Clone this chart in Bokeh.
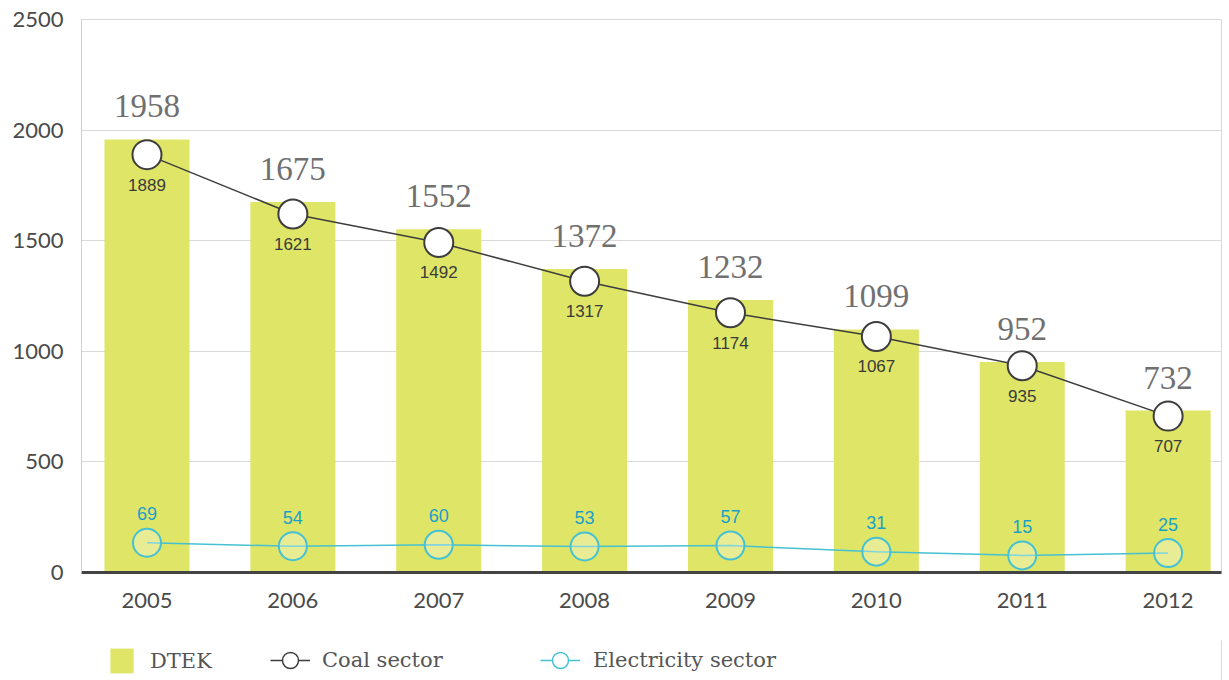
from bokeh.plotting import figure
from bokeh.layouts import column
from bokeh.models import Range1d, FixedTicker, Legend, LegendItem, ColumnDataSource
from bokeh.core.properties import value
from bokeh.embed import file_html
from bokeh.resources import INLINE

# Data
years = [2005, 2006, 2007, 2008, 2009, 2010, 2011, 2012]
dtek = [1958, 1675, 1552, 1372, 1232, 1099, 952, 732]
coal_sector = [1889, 1621, 1492, 1317, 1174, 1067, 935, 707]
electricity_sector = [69, 54, 60, 53, 57, 31, 15, 25]
y_ticks = [0, 500, 1000, 1500, 2000, 2500]

BAR = "#dfe667"
COAL = "#3d3d3d"
ELEC_LINE = "#46c1d3"
ELEC_TEXT = "#1a9fc9"

src = ColumnDataSource(dict(
    year=years,
    dtek=dtek,
    coal=coal_sector,
    elec=electricity_sector,
    dtek_txt=[str(v) for v in dtek],
    coal_txt=[str(v) for v in coal_sector],
    elec_txt=[str(v) for v in electricity_sector],
))

p = figure(
    width=1229, height=640,
    x_range=Range1d(2004.551, 2012.366),
    y_range=Range1d(0, 2500),
    output_backend="svg", toolbar_location=None,
    min_border_left=81, min_border_right=8,
    min_border_top=19, min_border_bottom=68,
)
# electricity series uses its own (hidden) scale so it sits just above the baseline
p.extra_y_ranges = {"elec": Range1d(-58.2, 2307)}

p.background_fill_color = "white"
p.border_fill_color = "white"
p.outline_line_color = "#d9d9d9"
p.outline_line_width = 1

p.xgrid.grid_line_color = None
p.ygrid.grid_line_color = "#d9d9d9"
p.ygrid.grid_line_width = 1

# axes
p.xaxis.ticker = FixedTicker(ticks=years)
p.xaxis.axis_line_color = "#444444"
p.xaxis.axis_line_width = 3
p.xaxis.major_tick_line_color = None
p.xaxis.minor_tick_line_color = None
p.xaxis.major_label_standoff = 14
p.xaxis.major_label_text_font = "Lato"
p.xaxis.major_label_text_font_size = "22px"
p.xaxis.major_label_text_color = "#4a4a4a"

p.yaxis.ticker = FixedTicker(ticks=y_ticks)
p.yaxis.axis_line_color = "#cfcfcf"
p.yaxis.axis_line_width = 1
p.yaxis.major_tick_line_color = None
p.yaxis.minor_tick_line_color = None
p.yaxis.major_label_standoff = 12
p.yaxis.major_label_text_font = "Lato"
p.yaxis.major_label_text_font_size = "22px"
p.yaxis.major_label_text_color = "#4a4a4a"

# bars
p.vbar(x="year", top="dtek", width=0.583, source=src, fill_color=BAR, line_color=None)

# coal sector line
p.line(x="year", y="coal", source=src, line_color=COAL, line_width=1.5)
p.scatter(x="year", y="coal", source=src, size=29, marker="circle",
          fill_color="white", line_color=COAL, line_width=2)

# electricity sector line
p.line(x="year", y="elec", source=src, y_range_name="elec",
       line_color=ELEC_LINE, line_width=1.5)
p.scatter(x="year", y="elec", source=src, y_range_name="elec", size=28,
          marker="circle", fill_color="white", fill_alpha=0.3,
          line_color=ELEC_LINE, line_width=2)

# value labels
p.text(x="year", y="dtek", text="dtek_txt", source=src, y_offset=-33,
       text_align="center", text_baseline="middle",
       text_font=value("Liberation Serif"), text_font_size="33px", text_color="#707070")
p.text(x="year", y="coal", text="coal_txt", source=src, y_offset=30,
       text_align="center", text_baseline="middle",
       text_font=value("Liberation Sans"), text_font_size="17px", text_color="#3a3a3a")
p.text(x="year", y="elec", text="elec_txt", source=src, y_range_name="elec", y_offset=-29,
       text_align="center", text_baseline="middle",
       text_font=value("Liberation Sans"), text_font_size="18px", text_color=ELEC_TEXT)

# legend strip along the bottom (its frame lines up with the chart frame)
lg_fig = figure(
    width=1229, height=40,
    x_range=Range1d(0, 1), y_range=Range1d(0, 1),
    output_backend="svg", toolbar_location=None,
    min_border_left=0, min_border_right=0, min_border_top=0, min_border_bottom=0,
)
lg_fig.axis.visible = False
lg_fig.grid.visible = False
lg_fig.outline_line_color = None
lg_fig.background_fill_color = "white"
lg_fig.border_fill_color = "white"

# key glyphs share the chart data; it lies outside this strip's ranges, so only the keys show
key_bar = lg_fig.vbar(x="year", top="dtek", width=0.583, source=src,
                      fill_color=BAR, line_color=None)
key_coal_line = lg_fig.line(x="year", y="coal", source=src, line_color=COAL, line_width=1.5)
key_coal_pt = lg_fig.scatter(x="year", y="coal", source=src, marker="circle",
                             fill_color="white", line_color=COAL, line_width=1.5)
key_elec_line = lg_fig.line(x="year", y="elec", source=src, line_color=ELEC_LINE, line_width=1.5)
key_elec_pt = lg_fig.scatter(x="year", y="elec", source=src, marker="circle",
                             fill_color="white", line_color=ELEC_LINE, line_width=1.5)


def make_legend(items, loc, gw, gh, standoff):
    lg = Legend(items=items, location=loc, orientation="horizontal",
                glyph_width=gw, glyph_height=gh, label_standoff=standoff,
                padding=0, margin=0, spacing=0,
                border_line_color=None, background_fill_alpha=0,
                label_text_font="DejaVu Serif", label_text_font_size="21px",
                label_text_color="#555555")
    lg_fig.add_layout(lg, "center")


make_legend([LegendItem(label="DTEK", renderers=[key_bar])], (26, 4), 29, 31, 14)
make_legend([LegendItem(label="Coal sector", renderers=[key_coal_line, key_coal_pt])], (189, 0), 40, 40, 12)
make_legend([LegendItem(label="Electricity sector", renderers=[key_elec_line, key_elec_pt])], (459, 0), 40, 40, 13)

layout = column(p, lg_fig, spacing=0)
open("out.html", "w").write(file_html(layout, INLINE))
